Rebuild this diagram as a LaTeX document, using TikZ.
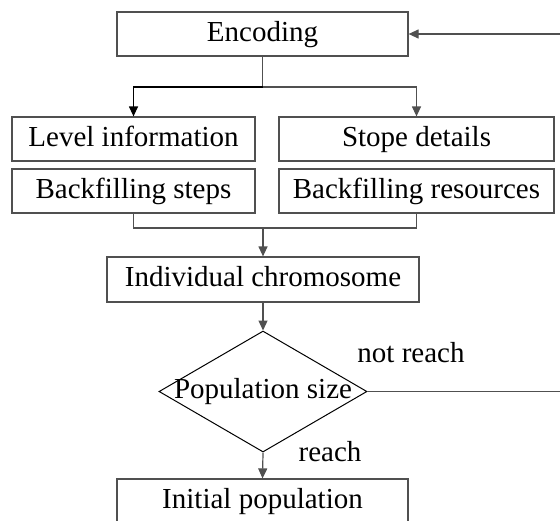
\documentclass[tikz,border=0pt]{standalone}
\usepackage{fontspec}
\setmainfont{Liberation Serif}
\usetikzlibrary{arrows.meta, shapes.geometric}
\definecolor{linegray}{HTML}{505050}

\tikzset{
  box/.style={draw=linegray, line width=0.6pt, inner sep=0pt, text=black,
    text height=1.6ex, text depth=0pt},
  decision/.style={draw=black, shape=diamond, inner sep=0pt, line width=0.5pt,
    minimum width=104pt, minimum height=60.5pt},
  flow/.style={draw=linegray, line width=0.6pt, ->},
}

\begin{document}
\begin{tikzpicture}[x=0.5pt, y=-0.5pt, >={Triangle[length=5pt,width=4.5pt]},
  font=\fontsize{14.5}{17}\selectfont]

\useasboundingbox (0,0) rectangle (560,520);

% --- layout helpers ---
\def\M{263}      % main column x
\def\Lc{133.5}   % left column x
\def\Rc{416.5}   % right column x

% --- top box ---
\node[box, minimum width=145.5pt, minimum height=22pt] (enc) at (262.5,34) {Encoding};

% --- parameter boxes, two columns ---
\node[box, minimum width=121.5pt, minimum height=22pt] (lvl) at (\Lc,139) {Level information};
\node[box, minimum width=137.5pt, minimum height=22pt] (stp) at (\Rc,139) {Stope details};
\node[box, minimum width=121.5pt, minimum height=22pt] (bfs) at (\Lc,191) {Backfilling steps};
\node[box, minimum width=137.5pt, minimum height=22pt] (bfr) at (\Rc,191) {Backfilling resources};

% --- chromosome and check ---
\node[box, minimum width=156pt, minimum height=22.5pt] (ind) at (\M,279.5) {Individual chromosome};
\node[decision] (size) at (\M,391.5) {};
\node (sizetxt) at (size.center) {Population size};
\node[box, minimum width=145.5pt, minimum height=22.5pt] (init) at (262.5,501.5) {Initial population};

% --- helper points ---
\coordinate (split) at (262.5,87);
\coordinate (merge) at (\M,228);
\coordinate (loop) at (564,391.5);

% --- connectors ---
\draw[draw=linegray, line width=0.6pt] (enc.south) -- (split);
\draw[flow, draw=black] (split) -| (lvl.north);
\draw[flow] (split) -| (stp.north);
\draw[draw=linegray, line width=0.6pt] (bfs.south) |- (merge) -| (bfr.south);
\draw[flow] (merge) -- (ind.north);
\draw[flow] (ind.south) -- (size.north);
\draw[flow] (size.south) -- (init.north);
\draw[flow] (size.east) -- (loop) |- (enc.east);

% --- branch labels ---
\node (nr) at (411,353) {not reach};
\node (rc) at (330,452) {reach};

\end{tikzpicture}
\end{document}
